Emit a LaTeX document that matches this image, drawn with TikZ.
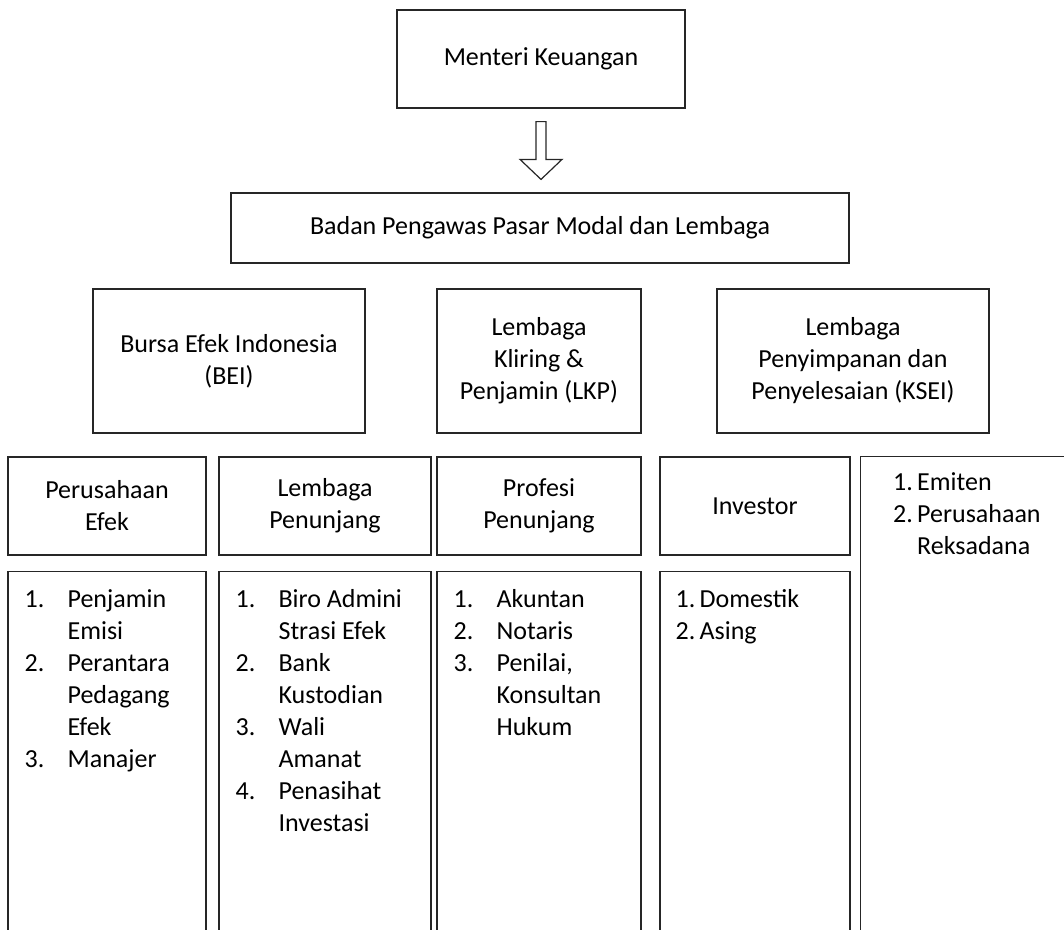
\documentclass[tikz,border=0pt]{standalone}
\usepackage{fontspec}
\setmainfont{Carlito}
\usetikzlibrary{positioning,calc}

\tikzset{
    kotak/.style={draw=black!85, line width=1.2pt, inner sep=0pt, align=center,
        font=\fontsize{26}{32}\selectfont},
    daftar/.style={inner sep=0pt, anchor=north west,
        font=\fontsize{26}{32}\selectfont},
}

\begin{document}
\begin{tikzpicture}[x=1pt, y=-1pt]
    \useasboundingbox (0,0) rectangle (1064,929);
    \clip (0,0) rectangle (1064,929);

    \node[kotak, minimum width=288pt, minimum height=98pt] (mk) at (541,59) {Menteri Keuangan};
    \node[kotak, minimum width=618pt, minimum height=70pt] (bapepam) at (540,228) {Badan Pengawas Pasar Modal dan Lembaga};

    \node[kotak, minimum width=272pt, minimum height=144pt] (bei) at (229,361) {Bursa Efek Indonesia\\(BEI)};
    \node[kotak, minimum width=204pt, minimum height=144pt] (lkp) at (539,361) {Lembaga\\Kliring \&\\Penjamin (LKP)};
    \node[kotak, minimum width=272pt, minimum height=144pt] (ksei) at (853,361) {Lembaga\\Penyimpanan dan\\Penyelesaian (KSEI)};

    \node[kotak, minimum width=198pt, minimum height=98pt] (pe) at (107,506) {Perusahaan\\Efek};
    \node[kotak, minimum width=212pt, minimum height=98pt] (lp) at (325,506) {Lembaga\\Penunjang};
    \node[kotak, minimum width=204pt, minimum height=98pt] (pp) at (539,506) {Profesi\\Penunjang};
    \node[kotak, minimum width=190pt, minimum height=98pt] (inv) at (755,506) {Investor};

    \node[kotak, minimum width=198pt, minimum height=400pt, below=15pt of pe] (pe2) {};
    \node[kotak, minimum width=212pt, minimum height=400pt, below=15pt of lp] (lp2) {};
    \node[kotak, minimum width=204pt, minimum height=400pt, below=15pt of pp] (pp2) {};
    \node[kotak, minimum width=190pt, minimum height=400pt, below=15pt of inv] (inv2) {};
    \node[kotak, minimum width=250pt, minimum height=500pt, anchor=north west] (emiten) at (860,456) {};

    % isi tiap kolom
    \node[daftar] (lpe) at ($(pe2.north west)+(17,14)$) {\begin{tabular}{@{}p{43pt}@{}l@{}}
        1. & Penjamin\\ & Emisi\\ 2. & Perantara\\ & Pedagang\\ & Efek\\ 3. & Manajer\end{tabular}};
    \node[daftar] (llp) at ($(lp2.north west)+(17,14)$) {\begin{tabular}{@{}p{43pt}@{}l@{}}
        1. & Biro Admini\\ & Strasi Efek\\ 2. & Bank\\ & Kustodian\\ 3. & Wali\\ & Amanat\\ 4. & Penasihat\\ & Investasi\end{tabular}};
    \node[daftar] (lpp) at ($(pp2.north west)+(17,14)$) {\begin{tabular}{@{}p{43pt}@{}l@{}}
        1. & Akuntan\\ 2. & Notaris\\ 3. & Penilai,\\ & Konsultan\\ & Hukum\end{tabular}};
    \node[daftar] (linv) at ($(inv2.north west)+(16,14)$) {\begin{tabular}{@{}p{24pt}@{}l@{}}
        1. & Domestik\\ 2. & Asing\end{tabular}};
    \node[daftar] (lem) at ($(emiten.north west)+(33,12)$) {\begin{tabular}{@{}p{24pt}@{}l@{}}
        1. & Emiten\\ 2. & Perusahaan\\ & Reksadana\end{tabular}};

    % panah blok
    \coordinate (pangkal) at ($(mk.south)+(0,13)$);
    \coordinate (ujung) at ($(mk.south |- bapepam.north)+(0,-13)$);
    \draw[line width=1.2pt, draw=black!85]
        ($(pangkal)+(-5,0)$) -- ($(pangkal)+(5,0)$) -- ($(ujung)+(5,-20)$)
        -- ($(ujung)+(21,-20)$) -- (ujung) -- ($(ujung)+(-21,-20)$)
        -- ($(ujung)+(-5,-20)$) -- cycle;
\end{tikzpicture}
\end{document}
